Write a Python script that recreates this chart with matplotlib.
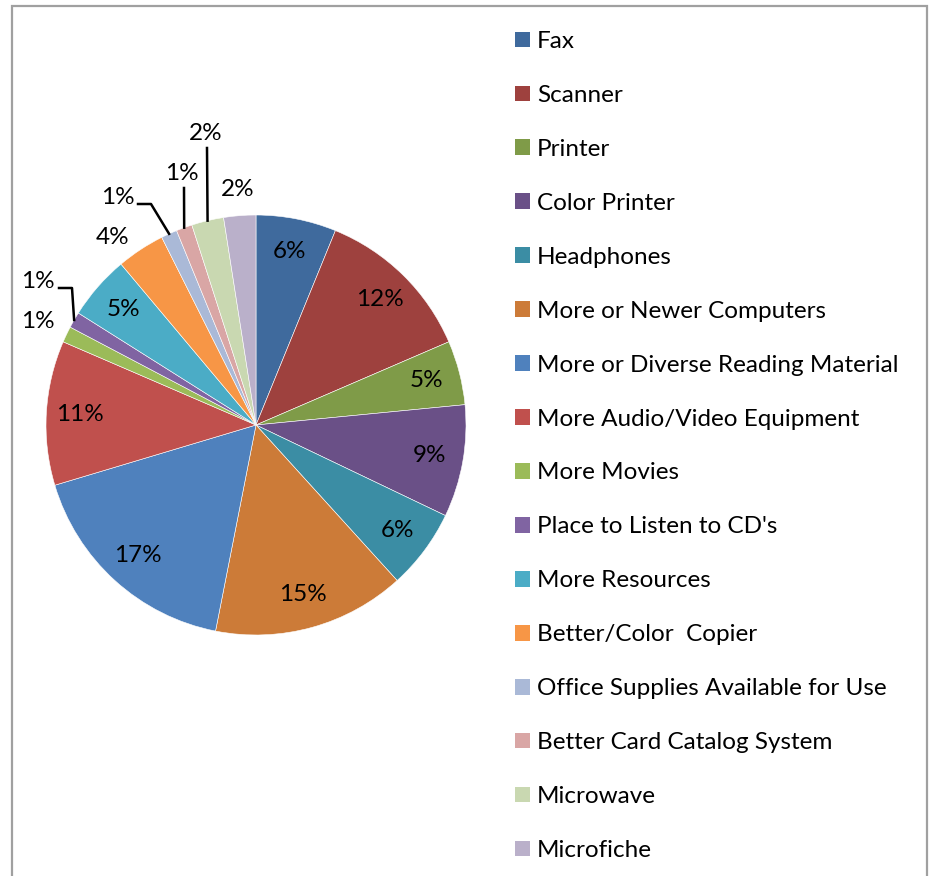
import numpy as np
import matplotlib.pyplot as plt
from matplotlib.patches import Rectangle

# responses per item (labels show share of 81)
categories = ["Fax", "Scanner", "Printer", "Color Printer", "Headphones",
              "More or Newer Computers", "More or Diverse Reading Material",
              "More Audio/Video Equipment", "More Movies", "Place to Listen to CD's",
              "More Resources", "Better/Color  Copier", "Office Supplies Available for Use",
              "Better Card Catalog System", "Microwave", "Microfiche"]
counts = [5, 10, 4, 7, 5, 12, 14, 9, 1, 1, 4, 3, 1, 1, 2, 2]
colors = ["#3F6A9D", "#9E413E", "#7F9B48", "#6A5087", "#3B8DA4", "#CC7B38",
          "#4F81BD", "#C0504D", "#9BBB59", "#8064A2", "#4BACC6", "#F79646",
          "#AAB9D7", "#D9A6A5", "#C9D8B1", "#BAB0CA"]

W, H = 930, 876
cx, cy, R = 256, H - 425, 210

plt.rcParams['font.family'] = ['Lato', 'DejaVu Sans']
fig = plt.figure(figsize=(W / 100, H / 100), dpi=100)
ax = fig.add_axes([0, 0, 1, 1])

wedges, _ = ax.pie(counts, colors=colors, startangle=90, counterclock=False,
                   center=(cx, cy), radius=R,
                   wedgeprops=dict(edgecolor="white", linewidth=0.4))
ax.set_xlim(0, W)
ax.set_ylim(0, H)
ax.set_aspect('auto')
ax.axis('off')

# outer frame
ax.add_patch(Rectangle((12, -20), 915, H - 6 + 20, fill=False,
                       edgecolor="#A0A0A0", linewidth=1.6))

# outside labels: index -> (text offset from centre in px, elbow point or None)
outside = {
    8: ((-218, -104), None),
    9: ((-218, -143), [(-197, -137), (-184, -137)]),
    11: ((-143, -188), None),
    12: ((-138, -228), [(-118, -221), (-105, -221)]),
    13: ((-74, -252), [(-72, -237)]),
    14: ((-50, -291), [(-49, -277)]),
    15: ((-18, -235), None),
}

total = sum(counts)
fs = 17.5
for i, w in enumerate(wedges):
    pct = counts[i] / total * 100
    txt = f"{pct:.0f}%"
    mid = np.deg2rad((w.theta1 + w.theta2) / 2)
    if i in outside:
        (ox, oy), elbow = outside[i]
        ax.text(cx + ox, cy - oy, txt, ha="center", va="center", fontsize=fs)
        if elbow:
            pts = [(cx + ex, cy - ey) for ex, ey in elbow]
            pts.append((cx + R * np.cos(mid), cy + R * np.sin(mid)))
            xs, ys = zip(*pts)
            ax.plot(xs, ys, color="black", linewidth=1.8)
    else:
        ax.text(cx + 0.84 * R * np.cos(mid), cy + 0.84 * R * np.sin(mid), txt,
                ha="center", va="center", fontsize=fs)

# legend
leg = ax.legend(wedges, categories, loc="upper left", bbox_to_anchor=(515 / W, 1 - 31 / H),
                bbox_transform=fig.transFigure, frameon=False, fontsize=fs,
                handlelength=0.62, handleheight=0.62, handletextpad=0.29,
                labelspacing=1.355, borderpad=0, borderaxespad=0)
for h in leg.legend_handles:
    h.set_edgecolor("none")

fig.savefig("out.png", dpi=100)
